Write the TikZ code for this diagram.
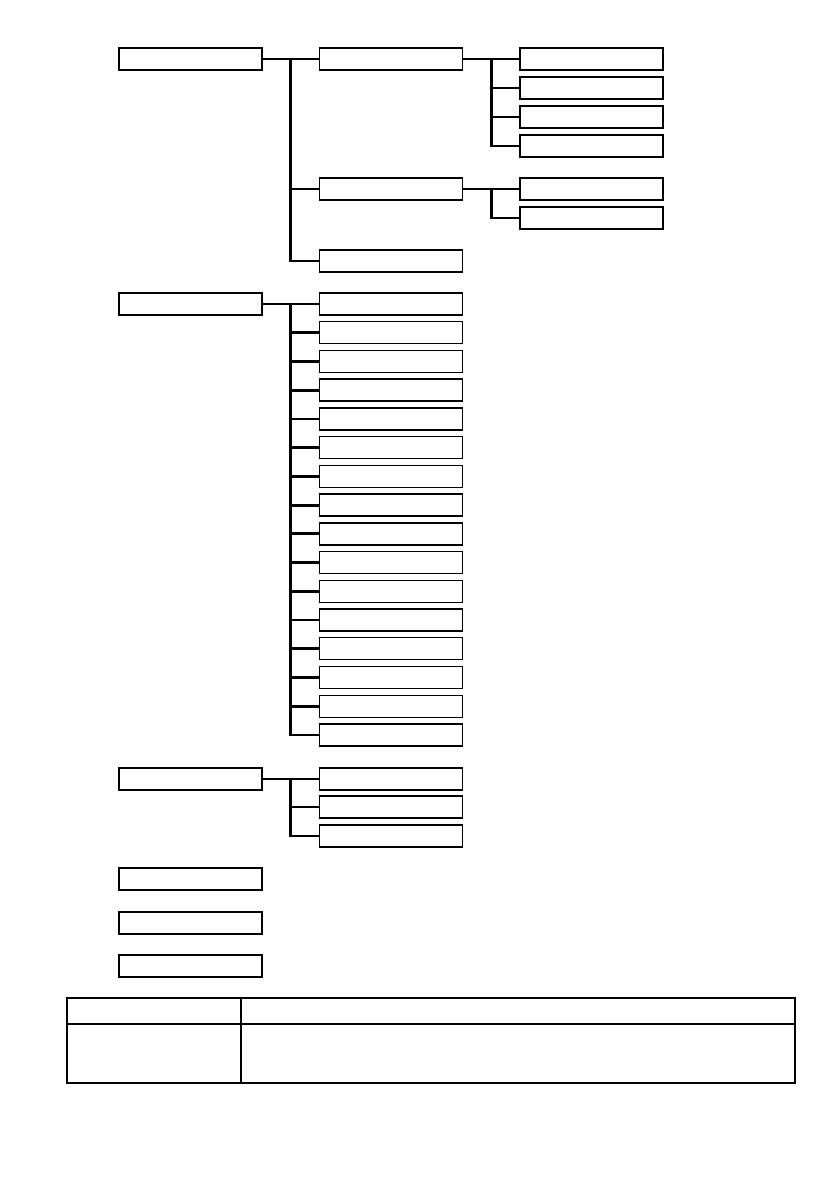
\documentclass[tikz,border=0pt]{standalone}
\usepackage{tikz}
\usetikzlibrary{calc}
\tikzset{
  item box/.style={draw, line width=1.4pt, fill=white, minimum width=143pt, minimum height=22pt, inner sep=0pt},
  branch line/.style={line width=2.8pt, black, line join=miter},
  table line/.style={line width=1.2pt, black},
}
% parent -> trunk -> children (first list entry sets the trunk)
\newcommand{\drawBranches}[3]{
  \coordinate (#1 trunk) at ($(#1.east)!0.5!(#2.west)$);
  \draw[branch line] (#1.east) -- (#2.west);
  \draw[branch line] (#1 trunk) |- (#3.west);
}

\begin{document}
\begin{tikzpicture}[x=1pt, y=-1pt]
  \useasboundingbox (0,0) rectangle (839,1191);
  % first group
  \node[item box] (A1) at (190.5,59) {};
  \node[item box] (B1) at (391,59) {};
  \node[item box] (B2) at (391,189) {};
  \node[item box] (B3) at (391,261) {};
  \foreach \i/\y in {1/59, 2/88, 3/117, 4/146}
    \node[item box] (C\i) at (591.5,\y) {};
  \node[item box] (D1) at (591.5,189) {};
  \node[item box] (D2) at (591.5,218) {};
  \drawBranches{A1}{B1}{B3}
  \draw[branch line] (A1 trunk |- B2.west) -- (B2.west);
  \drawBranches{B1}{C1}{C4}
  \foreach \c in {C2, C3}
    \draw[branch line] (B1 trunk |- \c.west) -- (\c.west);
  \drawBranches{B2}{D1}{D2}
  % second group
  \node[item box] (A2) at (190.5,304) {};
  \foreach \i in {1,...,16}
    \node[item box] (E\i) at (391,{304+(\i-1)*28.73}) {};
  \drawBranches{A2}{E1}{E16}
  \foreach \i in {2,...,15}
    \draw[branch line] (A2 trunk |- E\i.west) -- (E\i.west);
  % third group
  \node[item box] (A3) at (190.5,779) {};
  \foreach \i/\y in {1/779, 2/807, 3/836}
    \node[item box] (F\i) at (391,\y) {};
  \drawBranches{A3}{F1}{F3}
  \draw[branch line] (A3 trunk |- F2.west) -- (F2.west);
  % single boxes
  \node[item box] (A4) at (190.5,879) {};
  \node[item box] (A5) at (190.5,923) {};
  \node[item box] (A6) at (190.5,966) {};
  % table
  \draw[table line] (67,998) rectangle (795,1083);
  \draw[table line] (67,1024) -- (795,1024);
  \draw[table line] (241,998) -- (241,1083);
\end{tikzpicture}
\end{document}
